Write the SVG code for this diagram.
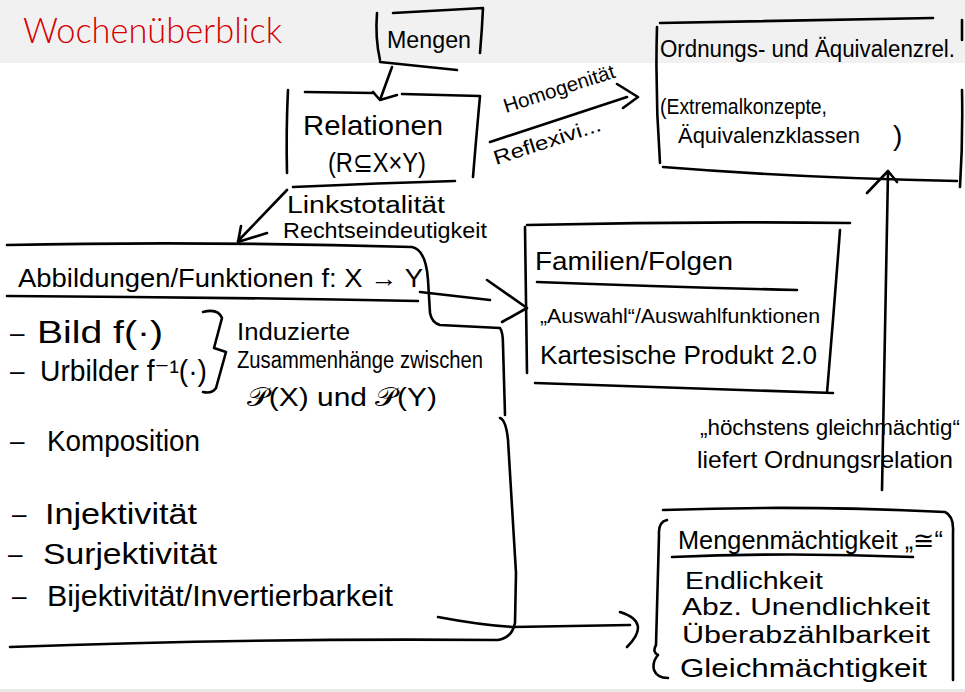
<svg xmlns="http://www.w3.org/2000/svg" width="965" height="692" viewBox="0 0 965 692">
<style>
.s{fill:none;stroke:#000;stroke-width:2.6;stroke-linecap:round;stroke-linejoin:round}
.t{font-family:"Liberation Sans","DejaVu Sans",Arial,sans-serif;fill:#000}
</style>
<rect x="0" y="0" width="965" height="63" fill="#f1f1f1"/>
<rect x="0" y="689" width="965" height="3" fill="#e8e8e8"/>
<text x="23" y="43" font-family="Lato,'Liberation Sans',sans-serif" font-weight="300" font-size="36" fill="#d40000" textLength="259" lengthAdjust="spacingAndGlyphs">Wochenüberblick</text>

<g id="mengen">
<path class="s" d="M377,13 Q375,38 380,60 M393,13 L483,8 M483,8 Q482,30 480,53 M380,62 L457,70"/>
<text class="t" x="387" y="48" font-size="23" textLength="84" lengthAdjust="spacingAndGlyphs">Mengen</text>
</g>

<g id="relationen">
<path class="s" d="M305,92 L374,93 M402,94 L480,96 M288,90 Q286,130 287,173 M480,96 Q476,140 473,177 M293,187 Q380,183 455,181"/>
<text class="t" x="303" y="135" font-size="28" textLength="140" lengthAdjust="spacingAndGlyphs">Relationen</text>
<text class="t" x="328" y="172" font-size="28" textLength="98" lengthAdjust="spacingAndGlyphs">(R⊆X×Y)</text>
</g>

<g id="ordnung">
<path class="s" d="M657,27 Q655,95 660,163 M660,23 L933,18 M962,20 L962,40 M962,90 Q963,140 960,187 M663,167 Q800,178 957,181"/>
<text class="t" x="660" y="57" font-size="23" textLength="295" lengthAdjust="spacingAndGlyphs">Ordnungs- und Äquivalenzrel.</text>
<text class="t" x="660" y="114" font-size="22" textLength="167" lengthAdjust="spacingAndGlyphs">(Extremalkonzepte,</text>
<text class="t" x="678" y="143" font-size="22"><tspan textLength="182" lengthAdjust="spacingAndGlyphs">Äquivalenzklassen</tspan><tspan x="893" y="145" font-size="28">)</tspan></text>
</g>

<g id="abbildungen">
<path class="s" d="M7,245 Q200,241 412,247 Q426,250 428,280 L430,313 Q432,323 440,325 L500,328 Q503,332 503,345 L505,415 M500,418 Q506,420 508,440 L516,573 L515,623 Q512,638 498,640 M10,647 Q250,638 498,640"/>
<path class="s" d="M7,296 Q210,297 418,301"/>
<text class="t" x="18" y="287" font-size="25" textLength="405" lengthAdjust="spacingAndGlyphs">Abbildungen/Funktionen f: X → Y</text>
<text class="t" x="10" y="342" font-size="26">–</text>
<text class="t" x="37" y="343" font-size="31" textLength="126" lengthAdjust="spacingAndGlyphs">Bild f(·)</text>
<text class="t" x="10" y="380" font-size="26">–</text>
<text class="t" x="40" y="381" font-size="30" textLength="167" lengthAdjust="spacingAndGlyphs">Urbilder f⁻¹(·)</text>
<path class="s" d="M203,312 Q218,308 222,318 L214,348 L226,352 L216,388 Q212,394 203,392"/>
<text class="t" x="237" y="340" font-size="23" textLength="113" lengthAdjust="spacingAndGlyphs">Induzierte</text>
<text class="t" x="237" y="368" font-size="23" textLength="246" lengthAdjust="spacingAndGlyphs">Zusammenhänge zwischen</text>
<text class="t" x="247" y="406" font-size="26" textLength="190" lengthAdjust="spacingAndGlyphs">𝒫(X) und 𝒫(Y)</text>
<text class="t" x="10" y="450" font-size="26">–</text>
<text class="t" x="47" y="451" font-size="29" textLength="153" lengthAdjust="spacingAndGlyphs">Komposition</text>
<text class="t" x="12" y="523" font-size="26">–</text>
<text class="t" x="45" y="524" font-size="30" textLength="152" lengthAdjust="spacingAndGlyphs">Injektivität</text>
<text class="t" x="8" y="563" font-size="26">–</text>
<text class="t" x="43" y="564" font-size="30" textLength="174" lengthAdjust="spacingAndGlyphs">Surjektivität</text>
<text class="t" x="12" y="605" font-size="26">–</text>
<text class="t" x="47" y="606" font-size="30" textLength="346" lengthAdjust="spacingAndGlyphs">Bijektivität/Invertierbarkeit</text>
</g>

<g id="familien">
<path class="s" d="M527,225 Q690,221 850,223 M525,227 Q526,300 527,373 M840,230 Q834,310 827,393 M535,383 Q690,388 833,393 M537,282 Q670,287 797,290"/>
<text class="t" x="535" y="270" font-size="26" textLength="198" lengthAdjust="spacingAndGlyphs">Familien/Folgen</text>
<text class="t" x="540" y="323" font-size="21" textLength="280" lengthAdjust="spacingAndGlyphs">„Auswahl“/Auswahlfunktionen</text>
<text class="t" x="540" y="364" font-size="26" textLength="277" lengthAdjust="spacingAndGlyphs">Kartesische Produkt 2.0</text>
</g>

<g id="maechtigkeit">
<path class="s" d="M663,510 Q800,505 945,512 Q954,516 953,532 L953,680 M667,520 Q658,522 659,535 L656,645 Q652,652 658,655 Q652,662 654,670 Q657,678 668,678 M672,557 Q790,552 913,557"/>
<text class="t" x="678" y="549" font-size="25" textLength="265" lengthAdjust="spacingAndGlyphs">Mengenmächtigkeit „≅“</text>
<text class="t" x="685" y="589" font-size="23" textLength="138" lengthAdjust="spacingAndGlyphs">Endlichkeit</text>
<text class="t" x="682" y="615" font-size="23" textLength="248" lengthAdjust="spacingAndGlyphs">Abz. Unendlichkeit</text>
<text class="t" x="682" y="643" font-size="23" textLength="248" lengthAdjust="spacingAndGlyphs">Überabzählbarkeit</text>
<text class="t" x="680" y="677" font-size="25" textLength="247" lengthAdjust="spacingAndGlyphs">Gleichmächtigkeit</text>
</g>

<g id="connectors">
<path class="s" d="M392,67 L380,100 M373,92 L380,100 L397,95"/>
<path class="s" d="M490,142 L627,97 M617,84 L638,97 L623,108"/>
<text class="t" x="0" y="0" font-size="20" textLength="116" lengthAdjust="spacingAndGlyphs" transform="translate(506,113) rotate(-18)">Homogenität</text>
<text class="t" x="0" y="0" font-size="20" textLength="112" lengthAdjust="spacingAndGlyphs" transform="translate(496,165) rotate(-18)">Reflexivi...</text>
<path class="s" d="M287,190 L238,241 M267,233 L238,242 L241,226"/>
<text class="t" x="287" y="213" font-size="23" textLength="158" lengthAdjust="spacingAndGlyphs">Linkstotalität</text>
<text class="t" x="283" y="238" font-size="22" textLength="204" lengthAdjust="spacingAndGlyphs">Rechtseindeutigkeit</text>
<path class="s" d="M420,292 L490,300 M487,280 L527,308 L502,322"/>
<path class="s" d="M882,490 L888,172 M867,193 L888,171 L897,182"/>
<text class="t" x="700" y="435" font-size="22" textLength="260" lengthAdjust="spacingAndGlyphs">„höchstens gleichmächtig“</text>
<text class="t" x="697" y="468" font-size="24" textLength="256" lengthAdjust="spacingAndGlyphs">liefert Ordnungsrelation</text>
<path class="s" d="M438,617 Q480,625 513,627 L630,625 M620,612 Q652,622 627,647"/>
</g>
</svg>
